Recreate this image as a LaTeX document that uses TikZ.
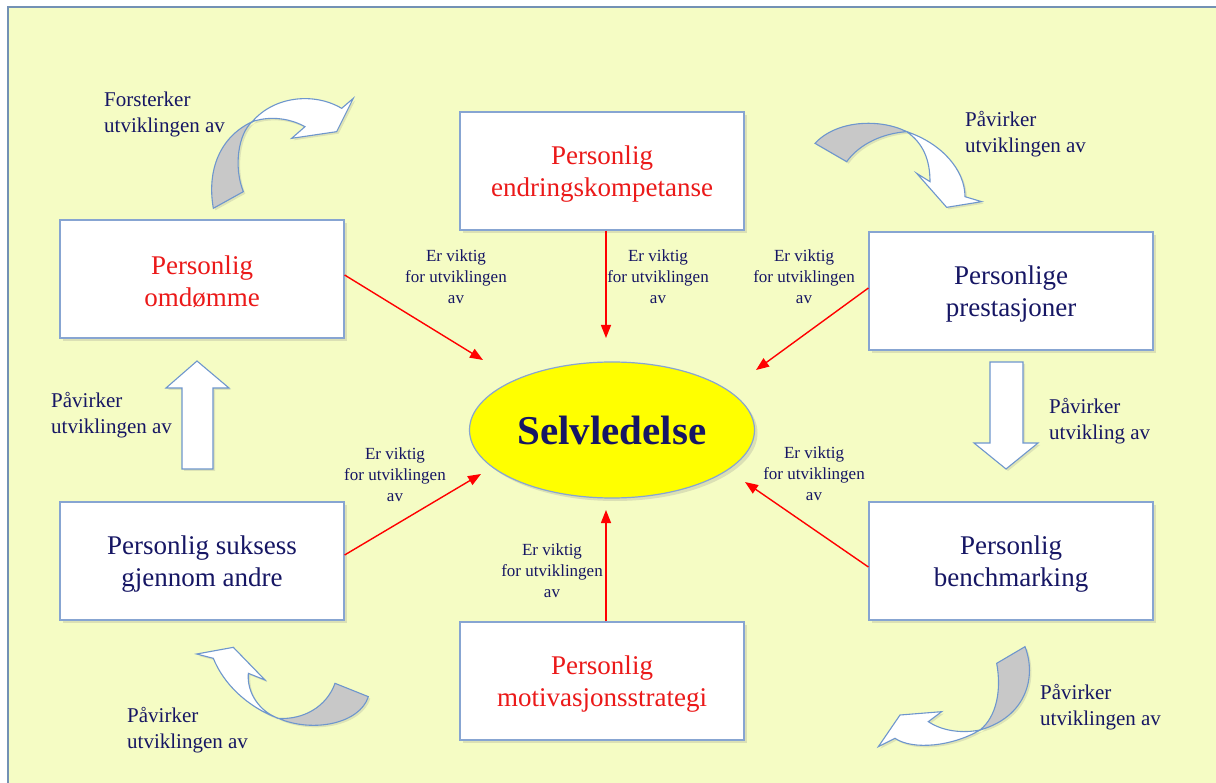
\documentclass[tikz,border=0pt]{standalone}
\usepackage{fontspec}
\setmainfont{Liberation Serif}
\usetikzlibrary{arrows.meta,shadows,shapes.geometric}
\definecolor{bg}{RGB}{245,252,196}
\definecolor{framecol}{RGB}{115,145,180}
\definecolor{boxline}{RGB}{135,165,210}
\definecolor{navy}{RGB}{22,22,100}
\definecolor{txtred}{RGB}{235,25,25}
\definecolor{arrowline}{RGB}{110,150,205}
\definecolor{grayfill}{RGB}{200,200,200}
\definecolor{ellyellow}{RGB}{255,255,0}
\newcommand{\firststrut}{\rule{0pt}{24.5pt}}
\tikzset{
  boxnode/.style={draw=boxline, line width=1.2pt, fill=white, minimum width=284pt,
    minimum height=118pt, align=center, font=\fontsize{27}{32}\selectfont,
    drop shadow={shadow xshift=3pt, shadow yshift=-3pt, opacity=.22}},
  redtxt/.style={text=txtred},
  navytxt/.style={text=navy},
  smalllab/.style={align=center, text=navy, inner sep=0pt, font=\fontsize{17}{21}\selectfont},
  arrowlab/.style={align=left, anchor=west, text=navy, inner sep=0pt, font=\fontsize{21}{26}\selectfont},
  conn/.style={draw=red, line width=1.4pt, -{Triangle[length=13pt,width=10pt]}},
  blockarrow/.style={draw=arrowline, line width=1.1pt, fill=white, line join=miter,
    drop shadow={shadow xshift=2pt, shadow yshift=-2pt, opacity=.2}},
  graypart/.style={draw=arrowline, line width=1.1pt, fill=grayfill,
    drop shadow={shadow xshift=2pt, shadow yshift=-2pt, opacity=.2}},
}
\begin{document}
\begin{tikzpicture}[x=1pt, y=-1pt]
\useasboundingbox (0,0) rectangle (1216,783);
\fill[white] (0,0) rectangle (1216,783);
\fill[bg] (8,7) rectangle (1216,783);
\draw[framecol, line width=2pt] (8,783) -- (8,7.5) -- (1216,7.5);

% boxes
\node[boxnode, redtxt] (endr) at (602,171) {\firststrut Personlig\\endringskompetanse};
\node[boxnode, redtxt] (omd) at (202,279) {\firststrut Personlig\\omdømme};
\node[boxnode, navytxt] (prest) at (1011,291) {\firststrut Personlige\\prestasjoner};
\node[boxnode, navytxt] (suks) at (202,561) {\firststrut Personlig suksess\\gjennom andre};
\node[boxnode, navytxt] (bench) at (1011,561) {\firststrut Personlig\\benchmarking};
\node[boxnode, redtxt] (motiv) at (602,681) {\firststrut Personlig\\motivasjonsstrategi};

% ellipse
\node[ellipse, draw=boxline, line width=1.2pt, fill=ellyellow, minimum width=285pt,
  minimum height=136pt, text=navy, font=\fontsize{41}{48}\selectfont\bfseries,
  drop shadow={shadow xshift=3pt, shadow yshift=-3pt, opacity=.22}] (ell) at (612,430) {Selvledelse};

% arrow ends near the ellipse
\coordinate (t1) at (483,360);
\coordinate (t2) at (606,338);
\coordinate (t3) at (756,370);
\coordinate (t4) at (481,474);
\coordinate (t5) at (606,510);
\coordinate (t6) at (745,482);

\draw[conn] ([yshift=4pt]omd.east) -- (t1);
\draw[conn] ([xshift=4pt]endr.south) -- (t2);
\draw[conn] ([yshift=3pt]prest.west) -- (t3);
\draw[conn] ([yshift=6pt]suks.east) -- (t4);
\draw[conn] ([xshift=4pt]motiv.north) -- (t5);
\draw[conn] ([yshift=-6pt]bench.west) -- (t6);

% labels on the red connectors
\node[smalllab] (l1) at (456,277) {Er viktig\\for utviklingen\\av};
\node[smalllab] (l2) at (658,277) {Er viktig\\for utviklingen\\av};
\node[smalllab] (l3) at (804,277) {Er viktig\\for utviklingen\\av};
\node[smalllab] (l4) at (395,475) {Er viktig\\for utviklingen\\av};
\node[smalllab] (l5) at (552,571) {Er viktig\\for utviklingen\\av};
\node[smalllab] (l6) at (814,474) {Er viktig\\for utviklingen\\av};

% block arrows
\draw[blockarrow] (182,469) -- (182,388) -- (166,388) -- (197,361) -- (229,388) -- (213,388) -- (213,469) -- cycle;
\draw[blockarrow] (990,362) -- (1023,362) -- (1023,443) -- (1038,443) -- (1006,469) -- (974,443) -- (990,443) -- cycle;

% curved arrow top-left
\begin{scope}[shift={(180,80)}, scale=1/3]
\draw[graypart] (100,385) .. controls (80,270) and (120,170) .. (217,125)
   .. controls (175,160) and (160,260) .. (190,335) -- cycle;
\draw[blockarrow] (217,125) .. controls (280,50) and (400,35) .. (485,85) -- (520,55) -- (470,155)
   -- (335,175) -- (375,140) .. controls (320,110) and (260,110) .. (217,125) -- cycle;
\end{scope}
% curved arrow top-right
\begin{scope}[shift={(800,100)}, scale=1/3]
\draw[graypart] (45,130) .. controls (110,60) and (240,55) .. (320,95)
   .. controls (250,100) and (180,130) .. (140,185) -- cycle;
\draw[blockarrow] (320,95) .. controls (425,130) and (495,210) .. (495,290) -- (545,305) -- (440,322)
   -- (350,220) -- (390,245) .. controls (390,180) and (370,130) .. (320,95) -- cycle;
\end{scope}
% curved arrow bottom-right
\begin{scope}[shift={(860,630)}, scale=1/3]
\draw[graypart] (410,100) -- (495,50) .. controls (530,140) and (500,260) .. (360,300)
   .. controls (410,260) and (425,180) .. (410,100) -- cycle;
\draw[blockarrow] (360,300) .. controls (280,348) and (160,362) .. (105,325) -- (55,350) -- (120,255)
   -- (245,245) -- (205,275) .. controls (250,305) and (310,310) .. (360,300) -- cycle;
\end{scope}
% curved arrow bottom-left
\begin{scope}[shift={(180,630)}, scale=1/3]
\draw[graypart] (465,160) -- (565,200) .. controls (540,280) and (400,310) .. (295,265)
   .. controls (370,270) and (440,230) .. (465,160) -- cycle;
\draw[blockarrow] (295,265) .. controls (200,230) and (130,160) .. (100,85) -- (50,72) -- (160,52)
   -- (255,150) -- (205,130) .. controls (200,190) and (240,245) .. (295,265) -- cycle;
\end{scope}

% labels for the block arrows
\node[arrowlab] (a1) at (104,114) {Forsterker\\utviklingen av};
\node[arrowlab] (a2) at (965,134) {Påvirker\\utviklingen av};
\node[arrowlab] (a3) at (51,415) {Påvirker\\utviklingen av};
\node[arrowlab] (a4) at (1049,421) {Påvirker\\utvikling av};
\node[arrowlab] (a5) at (1040,707) {Påvirker\\utviklingen av};
\node[arrowlab] (a6) at (127,730) {Påvirker\\utviklingen av};
\end{tikzpicture}
\end{document}
